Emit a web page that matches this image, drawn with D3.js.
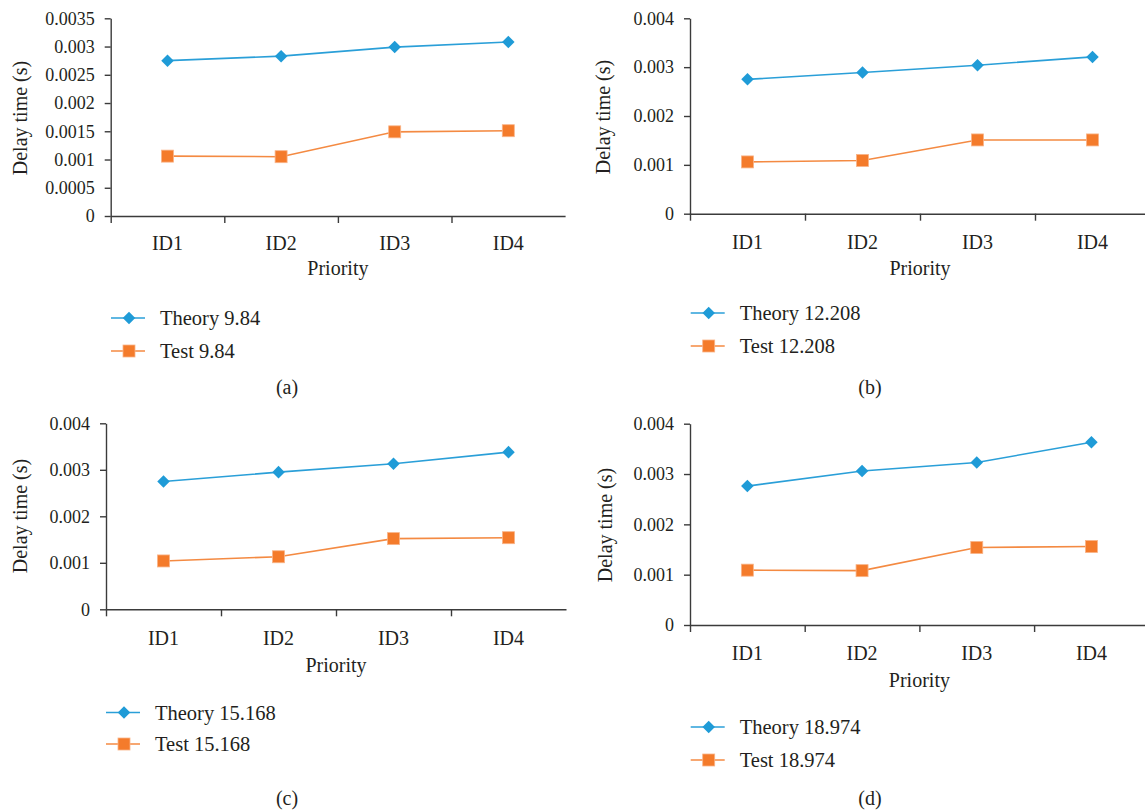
<!DOCTYPE html>
<html>
<head>
<meta charset="utf-8">
<script src="https://cdn.jsdelivr.net/npm/d3@7"></script>
<style>
  body { margin: 0; background: #fff; }
  svg, svg text { font-family: "Liberation Serif", "DejaVu Serif", serif !important; }
  svg text { fill: #231f20; }
</style>
</head>
<body>
<svg id="chart" width="1145" height="812"></svg>
<script>
// data
const categories = ["ID1", "ID2", "ID3", "ID4"];

const theoryA = [0.00275, 0.00283, 0.00299, 0.00308];
const testA   = [0.00106, 0.00105, 0.00149, 0.00151];
const theoryB = [0.00275, 0.00289, 0.00304, 0.00321];
const testB   = [0.00106, 0.00109, 0.00151, 0.00151];
const theoryC = [0.00275, 0.00295, 0.00313, 0.00338];
const testC   = [0.00104, 0.00113, 0.00152, 0.00154];
const theoryD = [0.00276, 0.00306, 0.00323, 0.00363];
const testD   = [0.00109, 0.00108, 0.00154, 0.00156];

const ticksA = [0, 0.0005, 0.001, 0.0015, 0.002, 0.0025, 0.003, 0.0035];
const tickLabelsA = ["0", "0.0005", "0.001", "0.0015", "0.002", "0.0025", "0.003", "0.0035"];
const ticksBCD = [0, 0.001, 0.002, 0.003, 0.004];
const tickLabelsBCD = ["0", "0.001", "0.002", "0.003", "0.004"];

const legendA = ["Theory 9.84", "Test 9.84"];
const legendB = ["Theory 12.208", "Test 12.208"];
const legendC = ["Theory 15.168", "Test 15.168"];
const legendD = ["Theory 18.974", "Test 18.974"];
const captions = ["(a)", "(b)", "(c)", "(d)"];

const blue = "#1f9bd7", blueLine = "#2a9fd8";
const orange = "#f47b2b", orangeLine = "#f48a42";
const FONT = "'Liberation Serif', 'DejaVu Serif', serif";

// layout of the four panels
const panels = [
  { theory: theoryA, test: testA, ticks: ticksA, labels: tickLabelsA, legend: legendA, cap: captions[0],
    x0: 110.7, bw: 113.6, top: 18.3, bottom: 216, idY: 250, prY: 275, ytX: 20, ytY: 118,
    lgX: 111, lgY: [318, 351], capX: 287, capY: 394 },
  { theory: theoryB, test: testB, ticks: ticksBCD, labels: tickLabelsBCD, legend: legendB, cap: captions[1],
    x0: 690, bw: 115, top: 18.3, bottom: 213.7, idY: 249, prY: 275, ytX: 603, ytY: 117,
    lgX: 690.7, lgY: [313, 346], capX: 870, capY: 394 },
  { theory: theoryC, test: testC, ticks: ticksBCD, labels: tickLabelsBCD, legend: legendC, cap: captions[2],
    x0: 106, bw: 115, top: 423.3, bottom: 609.3, idY: 645, prY: 672, ytX: 20, ytY: 516,
    lgX: 106, lgY: [712.5, 744], capX: 287, capY: 805 },
  { theory: theoryD, test: testD, ticks: ticksBCD, labels: tickLabelsBCD, legend: legendD, cap: captions[3],
    x0: 690, bw: 114.7, top: 423.7, bottom: 625, idY: 660, prY: 687, ytX: 605, ytY: 525,
    lgX: 690.7, lgY: [727, 760], capX: 870, capY: 805 }
];

const svg = d3.select("#chart").attr("font-family", FONT);
const diamond = d3.symbol().type(d3.symbolDiamond2).size(100);

function drawMarkers(g, data, kind) {
  if (kind === "theory") {
    g.selectAll(null).data(data).enter().append("path")
      .attr("d", diamond)
      .attr("transform", d => `translate(${d[0]},${d[1]})`)
      .attr("fill", blue);
  } else {
    g.selectAll(null).data(data).enter().append("rect")
      .attr("x", d => d[0] - 6).attr("y", d => d[1] - 6)
      .attr("width", 12).attr("height", 12)
      .attr("fill", orange).attr("stroke", "#f9b488").attr("stroke-width", 0.8);
  }
}

panels.forEach(p => {
  const g = svg.append("g");
  const yMax = p.ticks[p.ticks.length - 1];
  const y = d3.scaleLinear().domain([0, yMax]).range([p.bottom, p.top]);
  const x = d3.scaleLinear().domain([0, categories.length]).range([p.x0, p.x0 + p.bw * categories.length]);

  // y axis
  const ya = g.append("g").attr("transform", `translate(${p.x0},0)`)
    .call(d3.axisLeft(y).tickValues(p.ticks).tickFormat((d, i) => p.labels[i]).tickSize(6).tickSizeOuter(0).tickPadding(10));
  ya.attr("font-family", FONT).attr("font-size", 18);
  ya.selectAll("text").attr("fill", "#231f20");

  // x axis, ticks between categories
  g.append("g").attr("transform", `translate(0,${p.bottom})`)
    .call(d3.axisBottom(x).tickValues(d3.range(categories.length)).tickFormat("").tickSize(7).tickSizeOuter(0));

  g.selectAll(".domain, .tick line").attr("stroke", "#3b3b3b").attr("stroke-width", 1.4);

  g.selectAll(null).data(categories).enter().append("text")
    .attr("x", (d, i) => x(i + 0.5)).attr("y", p.idY)
    .attr("text-anchor", "middle").attr("font-size", 20).text(d => d);

  g.append("text").attr("x", x(categories.length / 2)).attr("y", p.prY)
    .attr("text-anchor", "middle").attr("font-size", 20).text("Priority");

  g.append("text").attr("transform", `translate(${p.ytX},${p.ytY}) rotate(-90)`)
    .attr("dy", "0.35em").attr("text-anchor", "middle").attr("font-size", 20).text("Delay time (s)");

  // series
  const line = d3.line();
  const ptsTheory = p.theory.map((v, i) => [x(i + 0.5), y(v)]);
  const ptsTest = p.test.map((v, i) => [x(i + 0.5), y(v)]);
  g.append("path").attr("d", line(ptsTheory)).attr("fill", "none").attr("stroke", blueLine).attr("stroke-width", 1.6);
  g.append("path").attr("d", line(ptsTest)).attr("fill", "none").attr("stroke", orangeLine).attr("stroke-width", 1.6);
  drawMarkers(g, ptsTheory, "theory");
  drawMarkers(g, ptsTest, "test");

  // legend
  ["theory", "test"].forEach((k, i) => {
    const ly = p.lgY[i];
    g.append("line").attr("x1", p.lgX).attr("x2", p.lgX + 34).attr("y1", ly).attr("y2", ly)
      .attr("stroke", k === "theory" ? blueLine : orangeLine).attr("stroke-width", 1.6);
    drawMarkers(g, [[p.lgX + 18, ly]], k);
    g.append("text").attr("x", p.lgX + 49).attr("y", ly).attr("dy", "0.35em")
      .attr("font-size", 20.5).text(p.legend[i]);
  });

  g.append("text").attr("x", p.capX).attr("y", p.capY)
    .attr("text-anchor", "middle").attr("font-size", 20).text(p.cap);
});
</script>
</body>
</html>
